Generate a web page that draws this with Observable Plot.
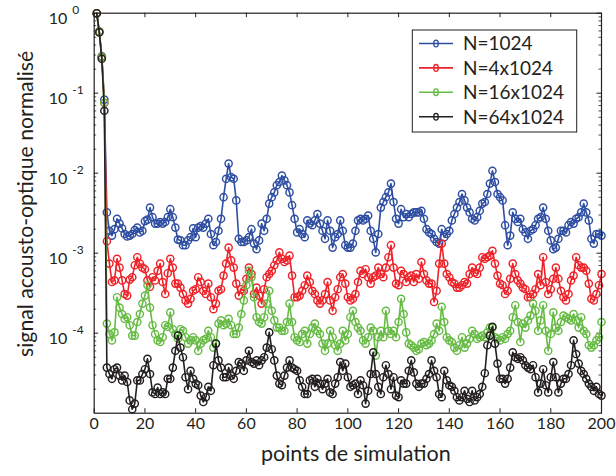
<!DOCTYPE html>
<html><head><meta charset="utf-8">
<script src="https://cdn.jsdelivr.net/npm/d3@7"></script>
<script src="https://cdn.jsdelivr.net/npm/@observablehq/plot@0.6"></script>
<style>
html,body{margin:0;padding:0;background:#fff;}
#chart{width:616px;height:476px;}
svg{font-family:Lato,"Open Sans",sans-serif;}
</style></head><body><div id="chart"></div>
<script>
// Series (legend order = drawing order)
const seriesNames = ["N=1024", "N=4x1024", "N=16x1024", "N=64x1024"];
const seriesColors = ["#2E4EA2", "#EE2229", "#66BB44", "#231F20"];

// log10 of the normalised acousto-optic signal, simulation points 1..200
const blueLog10 = [
0,-0.23,-0.54,-1.08,-2.49,-2.72,-2.78,-2.70,-2.57,-2.63,
-2.69,-2.76,-2.79,-2.78,-2.76,-2.71,-2.68,-2.74,-2.72,-2.60,
-2.58,-2.43,-2.55,-2.63,-2.63,-2.61,-2.63,-2.61,-2.55,-2.45,
-2.55,-2.68,-2.83,-2.84,-2.90,-2.90,-2.84,-2.80,-2.69,-2.80,
-2.68,-2.66,-2.68,-2.63,-2.57,-2.76,-2.90,-2.86,-2.72,-2.57,
-2.30,-2.07,-1.88,-2.05,-2.07,-2.34,-2.82,-2.86,-2.86,-2.84,
-2.80,-2.70,-2.88,-2.95,-2.84,-2.63,-2.72,-2.57,-2.38,-2.30,
-2.24,-2.15,-2.11,-2.03,-2.09,-2.15,-2.24,-2.40,-2.57,-2.74,
-2.70,-2.76,-2.80,-2.59,-2.63,-2.65,-2.59,-2.51,-2.63,-2.72,
-2.82,-2.59,-2.72,-2.93,-2.80,-2.76,-2.59,-2.72,-2.90,-2.93,
-2.93,-2.88,-2.72,-2.59,-2.57,-2.59,-2.57,-2.53,-2.72,-2.82,
-2.99,-2.76,-2.43,-2.36,-2.30,-2.24,-2.13,-2.36,-2.57,-2.63,
-2.45,-2.55,-2.51,-2.55,-2.51,-2.49,-2.49,-2.49,-2.47,-2.57,
-2.70,-2.74,-2.76,-2.82,-2.86,-2.88,-2.70,-2.80,-2.76,-2.72,
-2.59,-2.51,-2.43,-2.36,-2.26,-2.34,-2.43,-2.49,-2.57,-2.59,
-2.55,-2.47,-2.38,-2.36,-2.26,-2.13,-1.97,-2.11,-2.26,-2.30,
-2.34,-2.65,-2.90,-2.78,-2.49,-2.57,-2.61,-2.57,-2.70,-2.74,
-2.82,-2.72,-2.70,-2.65,-2.57,-2.55,-2.43,-2.57,-2.72,-2.84,
-2.95,-2.93,-2.82,-2.72,-2.72,-2.74,-2.65,-2.61,-2.63,-2.57,
-2.55,-2.49,-2.38,-2.49,-2.59,-2.82,-2.88,-2.76,-2.76,-2.78
];
const redLog10 = [
0,-0.23,-0.55,-1.12,-2.85,-3.13,-3.36,-3.34,-3.07,-3.18,
-3.34,-3.51,-3.53,-3.33,-3.30,-3.15,-3.05,-3.13,-3.18,-3.20,
-3.34,-3.42,-3.30,-3.34,-3.22,-3.13,-3.36,-3.51,-3.25,-3.07,
-3.18,-3.38,-3.38,-3.43,-3.51,-3.59,-3.63,-3.57,-3.47,-3.45,
-3.30,-3.36,-3.47,-3.51,-3.38,-3.55,-3.70,-3.63,-3.47,-3.45,
-3.28,-3.13,-2.93,-3.09,-3.18,-3.38,-3.53,-3.45,-3.47,-3.32,
-3.18,-3.26,-3.51,-3.43,-3.53,-3.63,-3.45,-3.30,-3.26,-3.22,
-3.15,-3.09,-2.99,-3.07,-3.11,-3.09,-3.03,-3.28,-3.55,-3.55,
-3.53,-3.47,-3.40,-3.28,-3.36,-3.47,-3.51,-3.59,-3.63,-3.59,
-3.51,-3.36,-3.59,-3.72,-3.55,-3.45,-3.30,-3.26,-3.38,-3.55,
-3.59,-3.57,-3.51,-3.36,-3.22,-3.26,-3.20,-3.30,-3.38,-3.30,
-3.28,-3.18,-3.26,-3.30,-3.18,-3.05,-2.90,-3.18,-3.38,-3.40,
-3.22,-3.26,-3.36,-3.30,-3.28,-3.36,-3.26,-3.32,-3.11,-3.26,
-3.34,-3.38,-3.38,-3.61,-3.47,-3.13,-2.88,-3.13,-3.26,-3.30,
-3.36,-3.38,-3.43,-3.43,-3.40,-3.36,-3.38,-3.26,-3.18,-3.24,
-3.26,-3.18,-3.05,-3.07,-3.05,-3.03,-2.97,-3.13,-3.28,-3.38,
-3.40,-3.51,-3.47,-3.32,-3.13,-3.26,-3.34,-3.38,-3.43,-3.45,
-3.55,-3.55,-3.51,-3.45,-3.26,-3.40,-3.05,-3.36,-3.51,-3.45,
-3.32,-3.18,-3.32,-3.47,-3.55,-3.59,-3.51,-3.34,-3.28,-3.05,
-3.15,-3.18,-3.18,-3.22,-3.38,-3.57,-3.59,-3.51,-3.40,-3.26
];
const greenLog10 = [
0,-0.23,-0.55,-1.12,-3.88,-4.01,-4.09,-3.99,-3.55,-3.68,
-3.76,-3.82,-3.80,-3.90,-4.03,-4.03,-3.86,-3.76,-3.63,-3.53,
-3.40,-3.68,-3.90,-4.01,-4.09,-4.11,-4.05,-3.90,-3.92,-3.74,
-3.95,-4.01,-4.07,-3.95,-3.97,-4.05,-4.13,-4.09,-4.05,-4.09,
-4.22,-4.13,-4.09,-4.07,-3.97,-4.05,-4.18,-4.13,-3.88,-3.84,
-3.90,-3.88,-3.82,-3.90,-4.01,-4.01,-3.93,-3.76,-3.59,-3.40,
-3.22,-3.30,-3.55,-3.80,-3.86,-3.88,-3.80,-3.63,-3.47,-3.72,
-3.84,-3.93,-3.93,-3.97,-3.97,-3.86,-3.63,-3.86,-4.05,-4.09,
-4.11,-4.01,-3.97,-4.13,-4.01,-3.93,-3.88,-3.97,-4.01,-4.13,
-4.22,-4.13,-3.97,-4.05,-4.15,-4.22,-4.13,-3.97,-4.09,-4.01,
-3.80,-3.72,-3.86,-3.93,-3.97,-4.09,-4.13,-4.05,-3.93,-3.97,
-4.28,-4.05,-3.97,-4.05,-3.72,-3.97,-4.01,-3.97,-4.05,-3.86,
-3.57,-3.76,-3.99,-4.13,-4.15,-4.18,-4.22,-4.20,-4.13,-4.11,
-4.15,-4.13,-4.09,-4.01,-3.88,-3.97,-3.67,-3.86,-4.05,-4.09,
-4.11,-4.18,-4.22,-4.15,-4.05,-4.18,-4.13,-4.07,-3.97,-4.01,
-4.07,-4.05,-4.03,-4.05,-3.99,-3.93,-3.93,-4.05,-4.07,-4.09,
-4.05,-4.07,-4.01,-3.97,-3.80,-3.65,-3.86,-4.11,-3.88,-3.93,
-3.84,-3.78,-3.63,-3.72,-3.97,-3.84,-3.65,-3.97,-4.22,-4.01,
-3.74,-3.93,-3.97,-3.86,-3.78,-3.80,-3.82,-3.84,-3.76,-3.84,
-3.93,-3.80,-3.97,-4.01,-4.15,-4.18,-4.15,-4.09,-4.05,-3.86
];
const blackLog10 = [
0,-0.24,-0.57,-1.22,-4.43,-4.51,-4.57,-4.45,-4.43,-4.53,
-4.59,-4.53,-4.61,-4.84,-4.95,-4.88,-4.59,-4.59,-4.51,-4.45,
-4.32,-4.51,-4.74,-4.76,-4.68,-4.76,-4.74,-4.76,-4.57,-4.57,
-4.43,-4.22,-4.03,-4.18,-4.30,-4.55,-4.70,-4.47,-4.57,-4.63,
-4.65,-4.78,-4.86,-4.80,-4.67,-4.72,-4.40,-4.13,-4.34,-4.43,
-4.55,-4.55,-4.43,-4.53,-4.57,-4.47,-4.36,-4.38,-4.47,-4.34,
-4.22,-4.36,-4.38,-4.34,-4.40,-4.34,-4.30,-4.18,-3.99,-4.20,
-4.34,-4.53,-4.63,-4.65,-4.53,-4.43,-4.34,-4.43,-4.45,-4.47,
-4.59,-4.67,-4.76,-4.76,-4.59,-4.57,-4.67,-4.57,-4.63,-4.70,
-4.63,-4.57,-4.74,-4.76,-4.63,-4.55,-4.36,-4.47,-4.38,-4.55,
-4.67,-4.65,-4.63,-4.76,-4.59,-4.65,-4.88,-4.72,-4.51,-4.24,
-4.51,-4.67,-4.76,-4.55,-4.40,-4.51,-4.70,-4.55,-4.78,-4.80,
-4.59,-4.63,-4.63,-4.47,-4.34,-4.49,-4.63,-4.67,-4.63,-4.63,
-4.57,-4.51,-4.34,-4.47,-4.55,-4.76,-4.80,-4.47,-4.59,-4.65,
-4.67,-4.72,-4.80,-4.84,-4.80,-4.72,-4.82,-4.86,-4.72,-4.84,
-4.80,-4.76,-4.67,-4.50,-4.15,-4.03,-3.92,-4.13,-4.38,-4.57,
-4.57,-4.63,-4.57,-4.43,-4.24,-4.30,-4.32,-4.30,-4.34,-4.40,
-4.43,-4.45,-4.40,-4.55,-4.74,-4.63,-4.45,-4.65,-4.74,-4.55,
-4.36,-4.55,-4.74,-4.63,-4.57,-4.57,-4.51,-4.40,-4.09,-4.26,
-4.38,-4.47,-4.51,-4.57,-4.63,-4.67,-4.72,-4.67,-4.76,-4.78
];
const seriesLog10 = [blueLog10, redLog10, greenLog10, blackLog10];

// Axes
const xTicks = [0, 20, 40, 60, 80, 100, 120, 140, 160, 180, 200];
const yMajorTicks = [1, 0.1, 0.01, 0.001, 0.0001];
const yDomain = [1e-5, 1];
const xLabel = "points de simulation";
const yLabel = "signal acousto-optique normalisé";

// Layout
const W = 616, H = 476;
const mL = 93.7, mR = 15, mT = 12.7, mB = 63.3;
const frameW = W - mL - mR, frameH = H - mT - mB;

const yMinorTicks = [];
for (let k = -5; k < 0; k++) for (let m = 2; m <= 9; m++) yMinorTicks.push(m * Math.pow(10, k));

const seriesData = seriesNames.map((name, i) =>
  seriesLog10[i].map((e, j) => ({series: name, point: j + 1, value: Math.pow(10, e)})));

const marks = [];
seriesData.forEach((rows, i) => {
  marks.push(Plot.line(rows, {x: "point", y: "value", stroke: seriesColors[i], strokeWidth: 1.6}));
  marks.push(Plot.dot(rows, {x: "point", y: "value", stroke: seriesColors[i], fill: "none", r: 3.6, strokeWidth: 1.45}));
});

const axisColor = "#231F20";
const chart = Plot.plot({
  width: W, height: H,
  marginLeft: mL, marginRight: mR, marginTop: mT, marginBottom: mB,
  style: {fontFamily: "Lato, 'Open Sans', sans-serif", background: "#fff", overflow: "visible"},
  x: {domain: [0, 200], axis: null},
  y: {type: "log", domain: yDomain, axis: null},
  marks: [
    // inward ticks
    Plot.ruleX(xTicks, {x: d => d, insetTop: frameH - 4.5, stroke: axisColor, strokeWidth: 1}),
    Plot.ruleX(xTicks, {x: d => d, insetBottom: frameH - 4.5, stroke: axisColor, strokeWidth: 1}),
    Plot.ruleY(yMajorTicks, {y: d => d, insetRight: frameW - 4.5, stroke: axisColor, strokeWidth: 1}),
    Plot.ruleY(yMajorTicks, {y: d => d, insetLeft: frameW - 4.5, stroke: axisColor, strokeWidth: 1}),
    Plot.ruleY(yMinorTicks, {y: d => d, insetRight: frameW - 2.5, stroke: axisColor, strokeWidth: 0.8}),
    Plot.ruleY(yMinorTicks, {y: d => d, insetLeft: frameW - 2.5, stroke: axisColor, strokeWidth: 0.8}),
    ...marks,
    Plot.frame({stroke: axisColor, strokeWidth: 1.2}),
    // tick labels
    Plot.text(xTicks, {x: d => d, text: d => String(d), frameAnchor: "bottom", dy: 15.6, fontSize: 16, fill: axisColor}),
    Plot.text(yMajorTicks, {y: d => d, text: () => "10", frameAnchor: "left", dx: -27, dy: 5.5, textAnchor: "end", fontSize: 16, fill: axisColor}),
    Plot.text(yMajorTicks, {y: d => d, text: d => String(Math.round(Math.log10(d))), frameAnchor: "left", dx: -22, dy: -3, textAnchor: "start", fontSize: 12, fill: axisColor}),
    // axis titles
    Plot.text([xLabel], {text: d => d, frameAnchor: "bottom", dx: 8, dy: 48, fontSize: 21.5, fill: axisColor}),
    Plot.text([yLabel], {text: d => d, frameAnchor: "left", dx: -68, dy: -9.3, rotate: -90, textAnchor: "middle", fontSize: 21.2, fill: axisColor})
  ]
});

// Legend (inside the plot frame, top right)
const svg = d3.select(chart);
const lg = svg.append("g").attr("font-family", "Lato, 'Open Sans', sans-serif").attr("text-anchor", "start");
lg.append("rect").attr("x", 412.3).attr("y", 30).attr("width", 164.4).attr("height", 102)
  .attr("fill", "#fff").attr("stroke", axisColor).attr("stroke-width", 1);
seriesNames.forEach((name, i) => {
  const cy = 43.5 + i * 24.4;
  lg.append("line").attr("x1", 419).attr("x2", 453).attr("y1", cy).attr("y2", cy)
    .attr("stroke", seriesColors[i]).attr("stroke-width", 1.6);
  lg.append("ellipse").attr("cx", 436).attr("cy", cy).attr("rx", 2.3).attr("ry", 3.4)
    .attr("fill", "none").attr("stroke", seriesColors[i]).attr("stroke-width", 1.3);
  lg.append("text").attr("x", 463).attr("y", cy).attr("dy", "0.36em").attr("text-anchor", "start")
    .attr("font-size", 19).attr("fill", axisColor).text(name);
});

document.getElementById("chart").appendChild(chart);
</script>
</body></html>
